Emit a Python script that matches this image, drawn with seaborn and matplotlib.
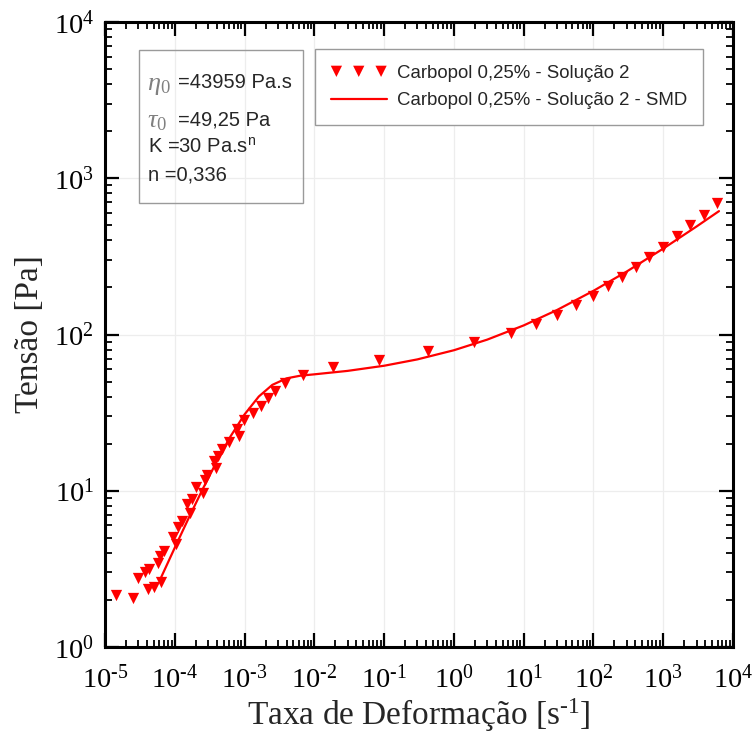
import numpy as np
import pandas as pd
import matplotlib
matplotlib.use("Agg")
import matplotlib.pyplot as plt
import seaborn as sns
from matplotlib.ticker import LogLocator, NullFormatter, FuncFormatter
from matplotlib.patches import Rectangle

shear_rate = [1.45e-5, 2.5e-5, 3.0e-5, 3.7e-5, 4.3e-5, 4.1e-5, 5.0e-5, 6.4e-5,
              5.8e-5, 6.2e-5, 7.1e-5, 9.5e-5, 1.05e-4, 1.1e-4, 1.26e-4, 1.48e-4,
              1.66e-4, 1.74e-4, 2.0e-4, 2.5e-4, 2.7e-4, 2.9e-4, 3.6e-4, 3.9e-4,
              4.2e-4, 4.7e-4, 6.0e-4, 7.8e-4, 8.3e-4, 9.8e-4, 1.33e-3, 1.7e-3,
              2.15e-3, 2.75e-3, 3.8e-3, 6.9e-3, 1.86e-2, 8.5e-2, 4.3e-1, 1.95,
              6.6, 15.1, 30.2, 56.2, 97.7, 162, 257, 407, 631, 1000, 1585, 2455,
              3800, 5900]
stress = [2.15, 2.05, 2.75, 3.0, 3.14, 2.35, 2.43, 2.62, 3.43, 3.8, 4.13, 5.08,
          4.54, 5.9, 6.45, 8.2, 7.2, 8.9, 10.6, 9.7, 11.8, 12.6, 15.4, 13.9,
          16.6, 18.4, 20.5, 25.0, 22.4, 28.2, 31.3, 34.8, 39.0, 43.6, 49.0,
          55.0, 62.0, 69.0, 78.0, 90.0, 102, 117, 133, 155, 176, 204, 235, 272,
          312, 365, 426, 500, 585, 695]

# ---- SMD curve ----
shear_smd = [6.3e-5, 1.0e-4, 1.6e-4, 2.5e-4, 4.0e-4, 6.3e-4, 1.0e-3, 1.6e-3,
             2.5e-3, 4.0e-3, 6.3e-3, 1.0e-2, 3.0e-2, 1.0e-1, 3.0e-1, 1.0, 3.0,
             10.0, 30.0, 100.0, 300.0, 1000.0, 3000.0, 6300.0]
stress_smd = [2.76, 4.32, 6.76, 10.2, 15.4, 22.3, 30.8, 40.1, 47.6, 52.4, 54.5,
              55.6, 58.5, 63.1, 69.3, 79.3, 92.7, 114.3, 143.4, 190.3, 253.0,
              354.6, 491.0, 616.0]

x_ticks = [1e-5, 1e-4, 1e-3, 1e-2, 1e-1, 1e0, 1e1, 1e2, 1e3, 1e4]
y_ticks = [1e0, 1e1, 1e2, 1e3, 1e4]

label_data = "Carbopol 0,25% - Solução 2"
label_smd = "Carbopol 0,25% - Solução 2 - SMD"

df_data = pd.DataFrame({"x": shear_rate, "y": stress})
df_smd = pd.DataFrame({"x": shear_smd, "y": stress_smd})

sns.set_style("ticks")
plt.rcParams['font.family'] = ['Liberation Serif', 'DejaVu Serif']
plt.rcParams['mathtext.fontset'] = 'custom'
plt.rcParams['mathtext.rm'] = 'Liberation Serif'
plt.rcParams['mathtext.it'] = 'Liberation Serif:italic'
plt.rcParams['mathtext.sf'] = 'Liberation Sans'

fig = plt.figure(figsize=(7.52, 7.39), dpi=100)
W, H = 752.0, 739.0
ax = fig.add_axes([105 / W, 1 - 647 / H, 628 / W, 625 / H])
ax.set_xscale('log')
ax.set_yscale('log')

sns.lineplot(data=df_smd, x="x", y="y", color='red', linewidth=1.6,
             label=label_smd, ax=ax, zorder=3, sort=True)
sns.scatterplot(data=df_data, x="x", y="y", marker='v', color='red', s=66,
                edgecolor='red', linewidth=0, label=label_data, ax=ax, zorder=4)

ax.set_xlim(1e-5, 1e4)
ax.set_ylim(1e0, 1e4)
ax.set_xticks(x_ticks)
ax.set_yticks(y_ticks)
ax.xaxis.set_minor_locator(LogLocator(base=10, subs=np.arange(2, 10), numticks=200))
ax.yaxis.set_minor_locator(LogLocator(base=10, subs=np.arange(2, 10), numticks=200))


def fmt_pow(v, p):
    e = int(round(np.log10(v)))
    s = str(abs(e))
    if e < 0:
        s = "\u2010" + s
    return r"$10^{\mathrm{%s}}$" % s


fmt = FuncFormatter(fmt_pow)
ax.xaxis.set_major_formatter(fmt)
ax.yaxis.set_major_formatter(fmt)
ax.xaxis.set_minor_formatter(NullFormatter())
ax.yaxis.set_minor_formatter(NullFormatter())

ax.tick_params(which='both', direction='in', top=True, right=True, colors='black')
ax.tick_params(which='major', length=10, width=1.6, labelsize=20.5)
ax.tick_params(axis='x', which='major', pad=13)
ax.tick_params(axis='y', which='major', pad=8)
ax.tick_params(which='minor', length=5, width=1.3)
for sp in ax.spines.values():
    sp.set_linewidth(2.2)
    sp.set_color('black')

ax.grid(True, which='major', color='#ededed', linewidth=0.9)
ax.set_axisbelow(True)

ax.set_xlabel("Taxa de Deformação [s$^{\\mathrm{\u20101}}$]", fontsize=24, labelpad=2)
ax.set_ylabel("Tensão [Pa]", fontsize=24, labelpad=6)

# legend
handles, labels = ax.get_legend_handles_labels()
order = [labels.index(label_data), labels.index(label_smd)]
leg = ax.legend([handles[i] for i in order], [labels[i] for i in order],
                loc='upper left', bbox_to_anchor=(315 / W, 1 - 49 / H),
                bbox_transform=fig.transFigure, borderaxespad=0,
                prop={'family': 'Liberation Sans', 'size': 13.4},
                scatterpoints=3, scatteryoffsets=[0.5], handlelength=3.0,
                handletextpad=0.55, labelspacing=0.55, borderpad=0.85,
                fancybox=False, framealpha=1, edgecolor='#9a9a9a')
leg.get_frame().set_linewidth(1.0)

# parameter box
box = Rectangle((139 / W, 1 - 203 / H), (303 - 139) / W, (203 - 50) / H,
                transform=fig.transFigure, fill=False, edgecolor='#9a9a9a',
                linewidth=1.0, zorder=5)
fig.patches.append(box)

sans = {'family': 'Liberation Sans', 'size': 14.5}
gray = '#808080'
fig.text(147 / W, 1 - 86 / H, r"$\eta_{0}$", color=gray, fontsize=19, va='center')
fig.text(178 / W, 1 - 83 / H, "=43959 Pa.s", va='center', **sans)
fig.text(147 / W, 1 - 122 / H, r"$\tau_{0}$", color=gray, fontsize=19, va='center')
fig.text(178 / W, 1 - 120 / H, "=49,25 Pa", va='center', **sans)
fig.text(148 / W, 1 - 147 / H, r"K =30 Pa.s$^{\mathsf{n}}$", va='center', **sans)
fig.text(148 / W, 1 - 175 / H, "n =0,336", va='center', **sans)

fig.savefig("out.png", dpi=100)
